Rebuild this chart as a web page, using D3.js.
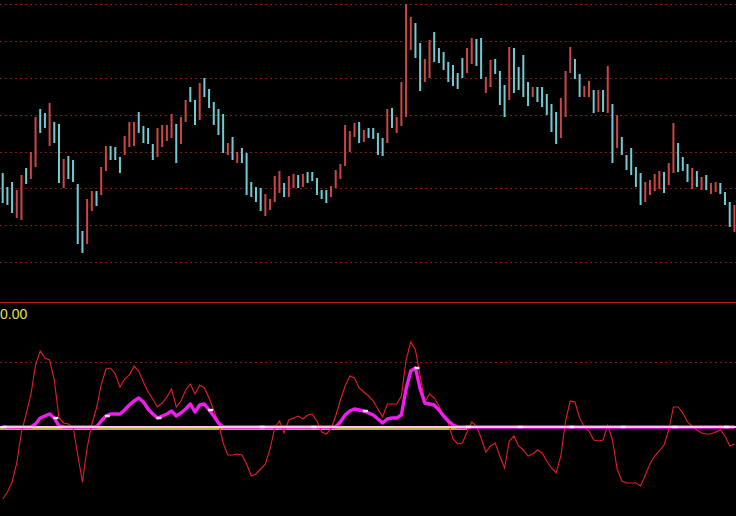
<!DOCTYPE html>
<html><head><meta charset="utf-8">
<script src="https://cdn.jsdelivr.net/npm/d3@7/dist/d3.min.js"></script>
<style>html,body{margin:0;padding:0;background:#000;overflow:hidden}svg{display:block}</style>
</head><body>
<svg id="c" width="736" height="516"></svg>
<script>
// ---- Price bars (price x100) ----
const highs = [1127,1113,1118,1110,1125,1132,1148,1183,1191,1187,
1197,1178,1176,1141,1144,1140,1116,1069,1101,1109,
1109,1133,1154,1154,1153,1143,1164,1178,1178,1188,
1174,1172,1156,1172,1175,1175,1186,1176,1183,1200,
1213,1200,1217,1222,1211,1198,1191,1186,1157,1163,
1148,1152,1147,1118,1113,1112,1106,1101,1124,1129,
1117,1124,1126,1125,1126,1128,1128,1122,1110,1110,
1114,1130,1136,1175,1169,1177,1178,1170,1172,1172,
1167,1162,1191,1192,1183,1218,1296,1283,1277,1257,
1241,1260,1268,1252,1248,1238,1235,1227,1242,1252,
1262,1261,1262,1223,1240,1241,1229,1215,1253,1252,
1233,1245,1218,1213,1213,1213,1206,1196,1188,1202,
1229,1253,1241,1226,1214,1219,1210,1210,1210,1234,
1196,1185,1163,1145,1152,1133,1127,1118,1120,1126,
1129,1128,1137,1177,1157,1143,1136,1132,1129,1123,
1125,1117,1118,1117,1108,1098,1095];
const lows = [1097,1095,1087,1082,1080,1116,1121,1133,1167,1172,
1154,1157,1117,1112,1121,1118,1056,1047,1056,1089,
1094,1105,1129,1140,1140,1127,1145,1153,1154,1167,
1157,1156,1140,1143,1153,1159,1162,1137,1156,1178,
1198,1175,1180,1203,1192,1175,1165,1147,1145,1140,
1137,1137,1105,1103,1098,1089,1084,1090,1098,1107,
1103,1103,1112,1112,1113,1117,1119,1105,1101,1097,
1103,1112,1121,1134,1148,1163,1157,1158,1162,1161,
1145,1144,1157,1172,1167,1174,1183,1250,1242,1209,
1218,1222,1238,1237,1230,1218,1214,1211,1222,1227,
1236,1234,1221,1207,1213,1226,1195,1183,1200,1207,
1210,1203,1194,1203,1198,1193,1185,1168,1156,1162,
1183,1227,1221,1203,1203,1203,1187,1188,1188,1187,
1137,1152,1145,1130,1125,1113,1095,1098,1105,1109,
1111,1107,1115,1127,1128,1129,1118,1111,1113,1110,
1110,1106,1108,1106,1095,1073,1068];
// u = up (red), d = down (cyan)
const directions = ("ddduuduudd"+"uddudddduu"+"duuddduuud"+"ddduuuuduu"+"ddudddddud"+
"uddddduuuu"+"duududdddd"+"uuuuuududd"+"dduduuuudd"+"uudddddddu"+
"udduudddud"+"dddudddddu"+"uudduududu"+"duddddduuu"+"uduudddudu"+"duudddu").split("");
const priceGrid = [1296,1259,1222,1185,1148,1112,1075,1038];

// ---- Oscillator ----
const oscRed = [-72,-65,-55,-36,-5,13,32,62,76,69,
67,47,9,4,3,0,-28,-55,-21,3,
19,42,58,59,53,40,48,52,61,56,
45,35,28,20,24,30,38,20,26,37,
43,33,42,39,29,17,4,-16,-28,-28,
-27,-28,-37,-49,-47,-42,-37,-22,-1,6,
-6,7,9,11,8,12,13,6,-5,-7,
-2,11,27,41,51,49,39,35,31,26,
18,10,23,23,23,31,67,85,77,51,
25,33,29,21,11,4,-12,-17,-16,-5,
5,1,-11,-25,-19,-16,-29,-41,-14,-9,
-19,-23,-29,-27,-23,-26,-34,-41,-46,-29,
6,26,25,9,0,-4,-13,-14,-13,2,
-13,-42,-54,-56,-56,-56,-59,-48,-37,-29,
-24,-18,-3,20,20,14,5,1,-3,-6,
-7,-7,-5,-3,-9,-19,-17];
const oscMag = [0,0,0,0,0,0,0,3,9,11,
13,9,1,0,0,0,0,0,0,0,
0,6,11,13,13,13,17,22,26,29,
25,18,13,9,11,13,16,11,14,18,
23,15,22,23,17,11,4,0,0,0,
0,0,0,0,0,0,0,0,0,0,
0,0,0,0,0,0,0,0,0,0,
0,0,5,12,16,18,17,16,14,12,
8,4,8,9,9,12,38,56,59,38,
24,23,22,17,11,6,2,0,0,0,
0,0,0,0,0,0,0,0,0,0,
0,0,0,0,0,0,0,0,0,0,
0,0,0,0,0,0,0,0,0,0,
0,0,0,0,0,0,0,0,0,0,
0,0,0,0,0,0,0,0,0,0,
0,0,0,0,0,0,0];
const oscGrid = [65];
const oscLabel = "0.00";
const markerEvery = 11;
const yellowEndIndex = 99;

const svg = d3.select("#c");
svg.append("rect").attr("width",736).attr("height",516).attr("fill","#000");

const n = highs.length;
const x = d3.scaleLinear().domain([0, n-1]).range([2.7, 734.4]);
const yP = d3.scaleLinear().domain([1000, 1300]).range([300, 0]);
const yO = d3.scaleLinear().domain([-89, 125]).range([516, 302]);

// price grid
svg.append("g").selectAll("line").data(priceGrid).join("line")
  .attr("x1",0).attr("x2",736)
  .attr("y1",d=>yP(d)+0.5).attr("y2",d=>yP(d)+0.5)
  .attr("stroke","#821c1c").attr("stroke-width",1).attr("stroke-dasharray","2,3");

// bars
svg.append("g").selectAll("rect").data(highs).join("rect")
  .attr("x",(d,i)=>x(i)-1).attr("width",2)
  .attr("y",(d,i)=>yP(d)).attr("height",(d,i)=>Math.max(1,yP(lows[i])-yP(d)))
  .attr("fill",(d,i)=>directions[i]==="u" ? "#cc4646" : "#72cbd3");

// separator
svg.append("line").attr("x1",0).attr("x2",736).attr("y1",302.5).attr("y2",302.5)
  .attr("stroke","#b81c1c").attr("stroke-width",1.2);

svg.append("text").attr("x",0).attr("y",319).text(oscLabel)
  .attr("font-family","Liberation Sans, Arial, sans-serif").attr("font-size",14)
  .attr("fill","#e4e25a");

// oscillator grid
svg.append("g").selectAll("line").data(oscGrid).join("line")
  .attr("x1",0).attr("x2",736)
  .attr("y1",d=>yO(d)+0.5).attr("y2",d=>yO(d)+0.5)
  .attr("stroke","#821c1c").attr("stroke-width",1).attr("stroke-dasharray","2,3");

// yellow zero line
svg.append("line").attr("x1",0).attr("x2",x(yellowEndIndex))
  .attr("y1",yO(0)+2).attr("y2",yO(0)+2)
  .attr("stroke","#f0ee40").attr("stroke-width",1.3);

// red oscillator
svg.append("path").datum(oscRed)
  .attr("d", d3.line().x((d,i)=>x(i)).y(d=>yO(d)))
  .attr("fill","none").attr("stroke","#e42020").attr("stroke-width",1.1);

// magenta line
svg.append("path").datum(oscMag)
  .attr("d", d3.line().x((d,i)=>x(i)).y(d=>yO(d)))
  .attr("fill","none").attr("stroke","#f21cf0").attr("stroke-width",3.4)
  .attr("stroke-linejoin","round");

// light zero line
svg.append("line").attr("x1",0).attr("x2",736)
  .attr("y1",yO(0)).attr("y2",yO(0))
  .attr("stroke","#ffc4ea").attr("stroke-width",2.2);

// white markers
const marks = oscMag.map((v,i)=>({i,v})).filter(d=>d.i % markerEvery === 0);
svg.append("g").selectAll("rect").data(marks).join("rect")
  .attr("x",d=>x(d.i)-1).attr("y",d=>yO(d.v)-1.2)
  .attr("width",5).attr("height",2.4).attr("fill","#f4eef4");
</script>
</body></html>
